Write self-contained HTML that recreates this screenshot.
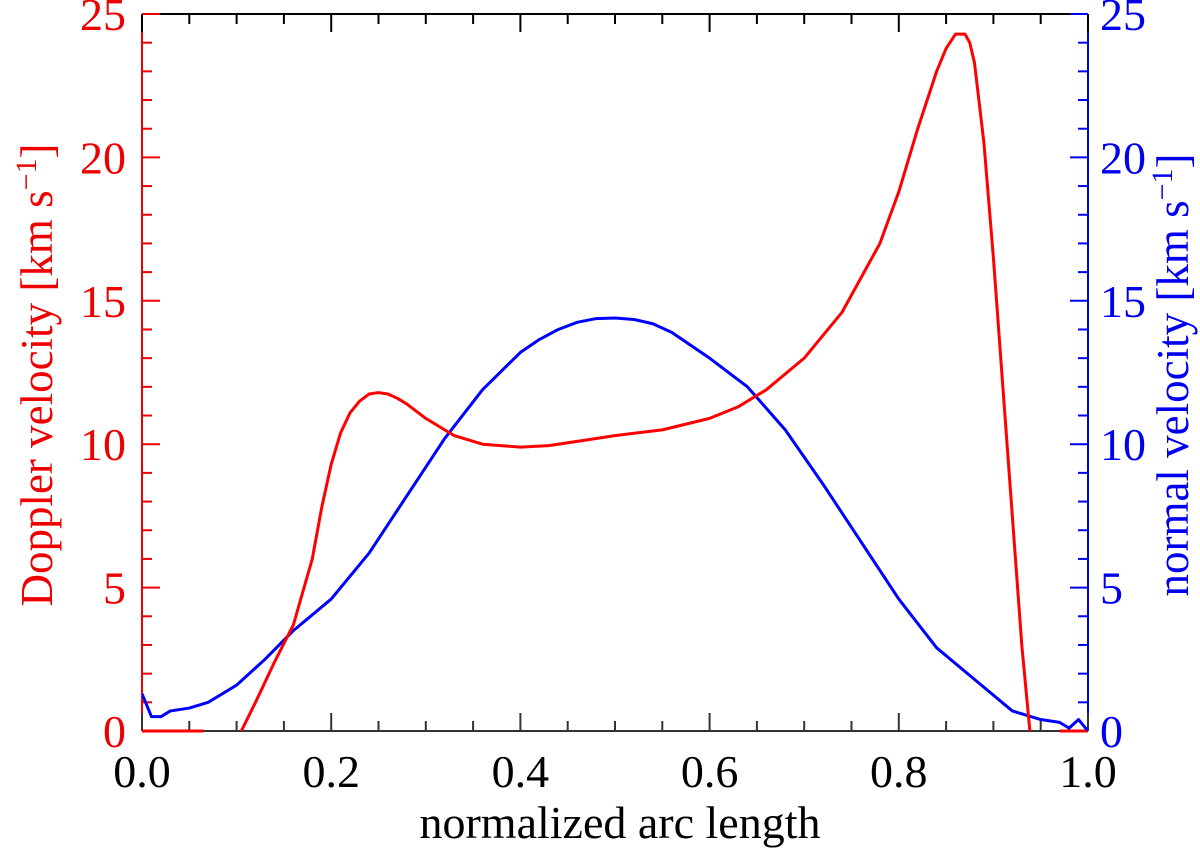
<!DOCTYPE html>
<html><head><meta charset="utf-8"><style>body{margin:0;background:#fff}svg{display:block}</style></head>
<body>
<svg id="c" width="1200" height="852" xmlns="http://www.w3.org/2000/svg" font-family="Liberation Serif, serif">
<defs><clipPath id="clip"><rect x="142" y="14" width="946" height="717"/></clipPath></defs>
<g id="ax"></g>
<g id="series" clip-path="url(#clip)"></g>
</svg>
<script>
const xTicks=[0,0.2,0.4,0.6,0.8,1.0];
const xTickLabels=["0.0","0.2","0.4","0.6","0.8","1.0"];
const yTicks=[0,5,10,15,20,25];
const redX=[0.105,0.12,0.14,0.16,0.18,0.19,0.2,0.21,0.22,0.23,0.24,0.25,0.26,0.27,0.28,0.3,0.33,0.36,0.4,0.43,0.46,0.5,0.55,0.6,0.63,0.66,0.7,0.74,0.78,0.8,0.82,0.84,0.85,0.86,0.87,0.875,0.88,0.89,0.9,0.91,0.92,0.93,0.94];
const redY=[0,1.0,2.4,3.7,6.0,7.8,9.3,10.4,11.1,11.5,11.75,11.8,11.75,11.6,11.4,10.9,10.3,10.0,9.9,9.95,10.1,10.3,10.5,10.9,11.3,11.9,13.0,14.6,17.0,18.8,21.0,23.0,23.8,24.3,24.3,24.0,23.3,20.5,16.5,12.0,7.5,3.0,-0.5];
const redFlatX=[[0,0.065],[0.97,1.0]];
const blueX=[0,0.01,0.02,0.03,0.05,0.07,0.1,0.13,0.16,0.2,0.24,0.28,0.32,0.36,0.4,0.42,0.44,0.46,0.48,0.5,0.52,0.54,0.56,0.6,0.64,0.68,0.72,0.76,0.8,0.84,0.88,0.92,0.95,0.97,0.98,0.99,1.0];
const blueY=[1.3,0.5,0.5,0.7,0.8,1.0,1.6,2.5,3.5,4.6,6.2,8.2,10.2,11.9,13.2,13.65,14.0,14.25,14.38,14.4,14.35,14.2,13.9,13.0,12.0,10.5,8.6,6.6,4.6,2.9,1.8,0.7,0.4,0.3,0.1,0.4,0];
const L=142,R=1088,T=14,B=731;
const sx=v=>L+(R-L)*v, sy=v=>B-(B-T)*v/25;
const NS="http://www.w3.org/2000/svg";
const ax=document.getElementById('ax'), se=document.getElementById('series');
function mk(p,tag,a,t){const e=document.createElementNS(NS,tag);for(const k in a)e.setAttribute(k,a[k]);if(t!=null)e.textContent=t;p.appendChild(e);return e;}
function ln(p,x1,y1,x2,y2,c,w){return mk(p,'line',{x1,y1,x2,y2,stroke:c,'stroke-width':w||2});}
let e;
e=ln(ax,L,B,R,B,'#333');
e=ln(ax,L,T,R,T,'#000');
e=ln(ax,L,T,L,B,'#e00');
e=ln(ax,R,T,R,B,'#00e');
for(let i=0;i<=20;i++){const v=i*0.05,x=sx(v),len=i%4==0?18:10;
 ln(ax,x,B,x,B-len,'#333');ln(ax,x,T,x,T+len,'#000');}
xTicks.forEach((v,i)=>{e=mk(ax,'text',{x:sx(v),y:787,'font-size':46,'text-anchor':'middle',fill:'#000'},xTickLabels[i]);
 });
for(let i=0;i<=25;i++){const y=sy(i),len=i%5==0?18:10;ln(ax,L,y,L+len,y,'#e00');ln(ax,R,y,R-len,y,'#00e');}
yTicks.forEach(v=>{e=mk(ax,'text',{x:126,y:sy(v)+16,'font-size':46,'text-anchor':'end',fill:'#e00'},String(v));
 
 e=mk(ax,'text',{x:1100,y:sy(v)+16,'font-size':46,'text-anchor':'start',fill:'#00e'},String(v));
 });
e=mk(ax,'text',{x:620,y:838,'font-size':46,'text-anchor':'middle',fill:'#000'},'normalized arc length');

e=mk(ax,'text',{x:0,y:0,'font-size':45,'text-anchor':'middle',fill:'#e00',transform:'translate(52,375) rotate(-90)'},'');
e.innerHTML='Doppler velocity [km s<tspan dy="-16" font-size="30">−1</tspan><tspan dy="16">]</tspan>';

e=mk(ax,'text',{x:0,y:0,'font-size':45,'text-anchor':'middle',fill:'#00e',transform:'translate(1188,375) rotate(-90)'},'');
e.innerHTML='normal velocity [km s<tspan dy="-16" font-size="30">−1</tspan><tspan dy="16">]</tspan>';

e=mk(se,'polyline',{points:blueX.map((v,i)=>sx(v)+','+sy(blueY[i])).join(' '),fill:'none',stroke:'#00f','stroke-width':3,'stroke-linejoin':'round'});

e=mk(se,'polyline',{points:redX.map((v,i)=>sx(v)+','+sy(redY[i])).join(' '),fill:'none',stroke:'#f00','stroke-width':3,'stroke-linejoin':'round'});

redFlatX.forEach(s=>{e=ln(ax,sx(s[0]),B,sx(s[1]),B,'#f00',3);
 });
</script>
</body></html>
